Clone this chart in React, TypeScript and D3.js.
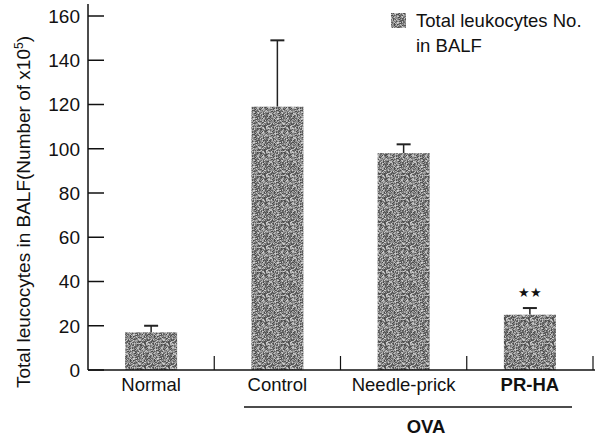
import React from "react";
import * as d3 from "d3";

const categories = ["Normal", "Control", "Needle-prick", "PR-HA"];
const values = [17, 119, 98, 25];
const errors = [3, 30, 4, 3];
const yTicks = [0, 20, 40, 60, 80, 100, 120, 140, 160];

const W = 604, H = 439;
const left = 88, right = 593, top = 16, bottom = 370;

// deterministic noise texture tile (visual texture only)
const TILE = 24;
const tile: { x: number; y: number; c: string }[] = [];
for (let yy = 0; yy < TILE; yy++) for (let xx = 0; xx < TILE; xx++) {
  const h = Math.abs(Math.sin(xx * 12.9898 + yy * 78.233) * 43758.5453) % 1;
  const g = Math.round(70 + h * 140);
  tile.push({ x: xx, y: yy, c: `rgb(${g},${g},${g})` });
}

export default function App() {
  const x = d3.scaleBand<string>().domain(categories).range([left, right]).paddingInner(0).paddingOuter(0);
  const y = d3.scaleLinear().domain([0, 160]).range([bottom, top]);
  const bw = 52;
  const font = "Liberation Sans, Arial, sans-serif";
  return (
    <svg width={W} height={H} style={{ position: "absolute", left: 0, top: 0, background: "#fff" }}>
      <defs>
        <pattern id="noise" width={TILE} height={TILE} patternUnits="userSpaceOnUse">
          {tile.map((p, i) => <rect key={i} x={p.x} y={p.y} width={1} height={1} fill={p.c} />)}
        </pattern>
      </defs>
      {/* bars */}
      {categories.map((c, i) => {
        const cx = x(c)! + x.bandwidth() / 2;
        return (
          <g key={c}>
            <line x1={cx} x2={cx} y1={y(values[i])} y2={y(values[i] + errors[i])} stroke="#222" strokeWidth={1.5} />
            <line x1={cx - 7} x2={cx + 7} y1={y(values[i] + errors[i])} y2={y(values[i] + errors[i])} stroke="#222" strokeWidth={2} />
            <rect x={cx - bw / 2} y={y(values[i])} width={bw} height={bottom - y(values[i])} fill="url(#noise)" />
          </g>
        );
      })}
      {/* y axis */}
      <line x1={left} x2={left} y1={4} y2={bottom} stroke="#111" strokeWidth={1.5} />
      {yTicks.map(t => (
        <g key={t}>
          <line x1={left} x2={left + 16} y1={y(t)} y2={y(t)} stroke="#111" strokeWidth={1.5} />
          <text x={left - 8} y={y(t)} dy="0.36em" textAnchor="end" fontFamily={font} fontSize={19} fill="#111">{t}</text>
        </g>
      ))}
      {/* x axis */}
      <line x1={left} x2={right + 2} y1={bottom} y2={bottom} stroke="#111" strokeWidth={1.5} />
      {categories.map(c => (
        <line key={c} x1={x(c)! + x.bandwidth()} x2={x(c)! + x.bandwidth()} y1={bottom} y2={bottom - 14} stroke="#111" strokeWidth={1.2} />
      ))}
      {categories.map((c, i) => (
        <text key={c} x={x(c)! + x.bandwidth() / 2} y={391} textAnchor="middle" fontFamily={font} fontSize={18.5}
          fontWeight={i === 3 ? "bold" : "normal"} fill="#111">{c}</text>
      ))}
      <text x={x("PR-HA")! + x.bandwidth() / 2} y={y(values[3] + errors[3]) - 11} textAnchor="middle" fontFamily={font} fontSize={13} fill="#111">★★</text>
      {/* OVA bracket */}
      <line x1={244} x2={572} y1={407} y2={407} stroke="#111" strokeWidth={1.5} />
      <text x={426} y={433} textAnchor="middle" fontFamily={font} fontSize={18.5} fontWeight="bold" fill="#111">OVA</text>
      {/* y title */}
      <text transform="translate(30,212) rotate(-90)" textAnchor="middle" fontFamily={font} fontSize={19} fill="#111">
        Total leucocytes in BALF(Number of x10<tspan dy="-7" fontSize={12}>5</tspan><tspan dy="7">)</tspan>
      </text>
      {/* legend */}
      <rect x={391} y={13} width={15} height={15} fill="url(#noise)" />
      <text x={416} y={27} fontFamily={font} fontSize={18.5} fill="#111">Total leukocytes No.</text>
      <text x={416} y={52} fontFamily={font} fontSize={18.5} fill="#111">in BALF</text>
    </svg>
  );
}
